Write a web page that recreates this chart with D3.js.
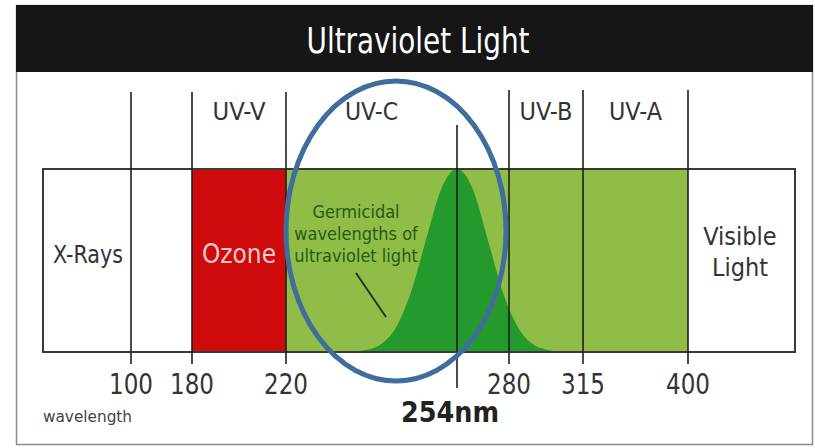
<!DOCTYPE html>
<html>
<head>
<meta charset="utf-8">
<script src="https://cdn.jsdelivr.net/npm/d3@7"></script>
<style>
  body { margin: 0; background: #fff; }
  text { font-family: "DejaVu Sans Condensed", "Liberation Sans Narrow", sans-serif; }
</style>
</head>
<body>
<script>
// wavelength marks (nm) and where they sit on the strip
const marks = [100, 180, 220, 254, 280, 315, 400];
const markX = [131, 192, 286, 457, 509, 583, 688];

const tickValues = [100, 180, 220, 280, 315, 400];
const tickLabels = ["100", "180", "220", "280", "315", "400"];

const bandNames = ["UV-V", "UV-C", "UV-B", "UV-A"];
const bandLabelAt = [200, 237, 297.5, 357.5];

// coloured spans of the strip
const spanStart = [180, 220];
const spanEnd = [220, 400];
const spanColor = ["#cf0a0c", "#8fbd47"];

// germicidal effectiveness curve (relative, peak at 254nm)
const germWave = [232, 236, 239, 242, 245, 248, 251, 254, 261.5, 269, 276.5, 284, 291, 298, 305];
const germRel  = [0, 0.012, 0.045, 0.14, 0.34, 0.63, 0.9, 1, 0.9, 0.63, 0.34, 0.14, 0.045, 0.012, 0];

const W = 815, H = 448;
const stripTop = 169, stripBottom = 352, stripLeft = 43, stripRight = 795;

const svg = d3.select("body").append("svg")
    .attr("width", W)
    .attr("height", H);

// outer frame + title bar
svg.append("rect")
    .attr("x", 16.5).attr("y", 5.5)
    .attr("width", 796).attr("height", 439)
    .attr("fill", "#fff")
    .attr("stroke", "#8a8a8a")
    .attr("stroke-width", 1.5);

svg.append("rect")
    .attr("x", 16).attr("y", 5)
    .attr("width", 797).attr("height", 67)
    .attr("fill", "#161616");

svg.append("text")
    .attr("x", 418).attr("y", 53)
    .attr("text-anchor", "middle")
    .attr("fill", "#fff")
    .attr("font-size", 36)
    .attr("textLength", 223)
    .attr("lengthAdjust", "spacingAndGlyphs")
    .text("Ultraviolet Light");

const x = d3.scaleLinear().domain(marks).range(markX);
const y = d3.scaleLinear().domain([0, 1]).range([stripBottom, stripTop]);

// strip background
svg.append("rect")
    .attr("x", stripLeft).attr("y", stripTop)
    .attr("width", stripRight - stripLeft).attr("height", stripBottom - stripTop)
    .attr("fill", "#fff");

svg.selectAll(".span")
    .data(spanStart)
    .enter().append("rect")
    .attr("class", "span")
    .attr("x", d => x(d))
    .attr("y", stripTop)
    .attr("width", (d, i) => x(spanEnd[i]) - x(d))
    .attr("height", stripBottom - stripTop)
    .attr("fill", (d, i) => spanColor[i]);

// germicidal bell
const germ = germWave.map((w, i) => [w, germRel[i]]);
const area = d3.area()
    .x(d => x(d[0]))
    .y0(stripBottom)
    .y1(d => y(d[1]))
    .curve(d3.curveMonotoneX);

svg.append("path")
    .datum(germ)
    .attr("d", area)
    .attr("fill", "#259a2c");

svg.append("rect")
    .attr("x", stripLeft).attr("y", stripTop)
    .attr("width", stripRight - stripLeft).attr("height", stripBottom - stripTop)
    .attr("fill", "none")
    .attr("stroke", "#3a3a3a")
    .attr("stroke-width", 2);

// boundary lines
svg.selectAll(".bound")
    .data(tickValues)
    .enter().append("line")
    .attr("class", "bound")
    .attr("x1", d => x(d)).attr("x2", d => x(d))
    .attr("y1", d => d < 250 ? 92 : 90)
    .attr("y2", 364)
    .attr("stroke", "#1e1e1e")
    .attr("stroke-width", 1.6);

svg.append("line")
    .attr("x1", x(254)).attr("x2", x(254))
    .attr("y1", 125).attr("y2", 388)
    .attr("stroke", "#1e1e1e")
    .attr("stroke-width", 1.6);

// band names
svg.selectAll(".band")
    .data(bandNames)
    .enter().append("text")
    .attr("class", "band")
    .attr("x", (d, i) => x(bandLabelAt[i]))
    .attr("y", 120)
    .attr("text-anchor", "middle")
    .attr("font-size", 25)
    .attr("fill", "#333")
    .attr("textLength", 53)
    .attr("lengthAdjust", "spacingAndGlyphs")
    .text(d => d);

// tick labels
svg.selectAll(".tick")
    .data(tickValues)
    .enter().append("text")
    .attr("class", "tick")
    .attr("x", d => x(d))
    .attr("y", 394)
    .attr("text-anchor", "middle")
    .attr("font-size", 29)
    .attr("fill", "#333")
    .attr("textLength", 44)
    .attr("lengthAdjust", "spacingAndGlyphs")
    .text((d, i) => tickLabels[i]);

svg.append("text")
    .attr("x", x(254) - 7).attr("y", 422)
    .attr("text-anchor", "middle")
    .attr("font-size", 28)
    .attr("font-weight", "bold")
    .attr("fill", "#222")
    .attr("textLength", 98)
    .attr("lengthAdjust", "spacingAndGlyphs")
    .text("254nm");

svg.append("text")
    .attr("x", 43).attr("y", 422)
    .attr("font-size", 16)
    .attr("fill", "#444")
    .attr("textLength", 89)
    .attr("lengthAdjust", "spacingAndGlyphs")
    .text("wavelength");

// region labels inside strip
svg.append("text")
    .attr("x", 88).attr("y", 263)
    .attr("text-anchor", "middle")
    .attr("font-size", 25)
    .attr("fill", "#333")
    .attr("textLength", 70)
    .attr("lengthAdjust", "spacingAndGlyphs")
    .text("X-Rays");

svg.append("text")
    .attr("x", x(200)).attr("y", 263)
    .attr("text-anchor", "middle")
    .attr("font-size", 26)
    .attr("fill", "#f6caca")
    .attr("textLength", 74)
    .attr("lengthAdjust", "spacingAndGlyphs")
    .text("Ozone");

const vis = svg.append("text")
    .attr("text-anchor", "middle")
    .attr("font-size", 25)
    .attr("fill", "#333");
vis.append("tspan").attr("x", 740).attr("y", 245).text("Visible");
vis.append("tspan").attr("x", 740).attr("y", 276).text("Light");

const germText = ["Germicidal", "wavelengths of", "ultraviolet light"];
svg.selectAll(".germ")
    .data(germText)
    .enter().append("text")
    .attr("class", "germ")
    .attr("x", 356)
    .attr("y", (d, i) => 218 + i * 22)
    .attr("text-anchor", "middle")
    .attr("font-size", 18)
    .attr("fill", "#2a5a12")
    .text(d => d);

svg.append("line")
    .attr("x1", 356).attr("y1", 273)
    .attr("x2", 386).attr("y2", 317)
    .attr("stroke", "#1f3a10")
    .attr("stroke-width", 2);

// highlight ellipse
svg.append("ellipse")
    .attr("cx", 396).attr("cy", 231)
    .attr("rx", 110).attr("ry", 150)
    .attr("fill", "none")
    .attr("stroke", "#3f6e9e")
    .attr("stroke-width", 5);
</script>
</body>
</html>
